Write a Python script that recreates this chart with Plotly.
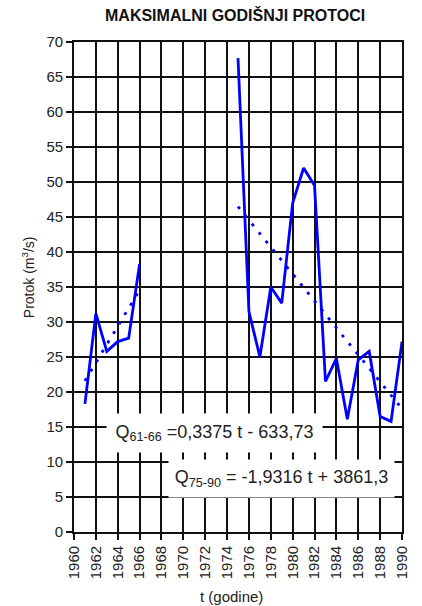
import numpy as np
import plotly.graph_objects as go

# Annual maximum discharge, two observation periods
years_a = [1961, 1962, 1963, 1964, 1965, 1966]
flow_a = [18.3, 31.2, 25.8, 27.2, 27.7, 38.3]

years_b = [1975, 1976, 1977, 1978, 1979, 1980, 1981, 1982,
           1983, 1984, 1985, 1986, 1987, 1988, 1989, 1990]
flow_b = [67.7, 31.5, 25.0, 35.0, 32.7, 47.0, 52.0, 49.5,
          21.5, 24.8, 16.1, 24.6, 25.8, 16.5, 15.8, 27.2]

eq_a = "Q<sub>61-66</sub> =0,3375 t - 633,73"
eq_b = "Q<sub>75-90</sub> = -1,9316 t + 3861,3"

BLUE = "#0000FF"
FONT = "Liberation Sans, Arial, sans-serif"


def trend(xs, ys):
    k, n = np.polyfit(xs, ys, 1)
    xe = [xs[0], xs[-1]]
    return xe, [k * x + n for x in xe]


fig = go.Figure()
for xs, ys in ((years_a, flow_a), (years_b, flow_b)):
    fig.add_trace(go.Scatter(x=xs, y=ys, mode="lines",
                             line=dict(color=BLUE, width=2.8),
                             showlegend=False, hoverinfo="skip"))
    tx, ty = trend(xs, ys)
    fig.add_trace(go.Scatter(x=tx, y=ty, mode="lines",
                             line=dict(color=BLUE, width=2.8, dash="3px,8px"),
                             showlegend=False, hoverinfo="skip"))

axis_common = dict(showgrid=True, gridcolor="#111", gridwidth=1.5,
                   showline=True, linecolor="#111", linewidth=1.7, mirror=True,
                   ticks="outside", ticklen=6, tickcolor="#111", tickwidth=1.5,
                   zeroline=False, fixedrange=True,
                   tickfont=dict(family=FONT, size=15, color="#222"))

fig.update_xaxes(range=[1960, 1990], dtick=2, tick0=1960, tickangle=-90,
                 tickformat="d", **axis_common)
fig.update_yaxes(range=[0, 70], dtick=5, tick0=0, **axis_common)

annotations = [
    dict(text="<b>MAKSIMALNI GODIŠNJI PROTOCI</b>", xref="paper", yref="paper",
         x=0.49, y=1, yshift=27, xanchor="center", yanchor="middle",
         showarrow=False, font=dict(family=FONT, size=16, color="#111")),
    dict(text="t (godine)", xref="paper", yref="paper", x=0.48, y=0,
         yshift=-64, xanchor="center", yanchor="middle", showarrow=False,
         font=dict(family=FONT, size=15, color="#222")),
    dict(text="Protok (m<sup>3</sup>/s)", xref="paper", yref="paper", x=0,
         xshift=-46, y=0.52, xanchor="center", yanchor="middle",
         textangle=-90, showarrow=False,
         font=dict(family=FONT, size=14, color="#222")),
    dict(text=eq_a, x=1972.87, y=14.2, xref="x", yref="y",
         xanchor="center", yanchor="middle", showarrow=False,
         bgcolor="white", width=215, height=38, borderpad=0,
         font=dict(family=FONT, size=18, color="#222")),
    dict(text=eq_b, x=1978.98, y=7.64, xref="x", yref="y",
         xanchor="center", yanchor="middle", showarrow=False,
         bgcolor="white", width=225, height=37, borderpad=0,
         font=dict(family=FONT, size=18, color="#222")),
]

fig.update_layout(width=422, height=606, autosize=False,
                  margin=dict(l=74, r=14, t=42, b=74),
                  paper_bgcolor="white", plot_bgcolor="white",
                  annotations=annotations)

fig.write_html("out.html", config={"displayModeBar": False})
